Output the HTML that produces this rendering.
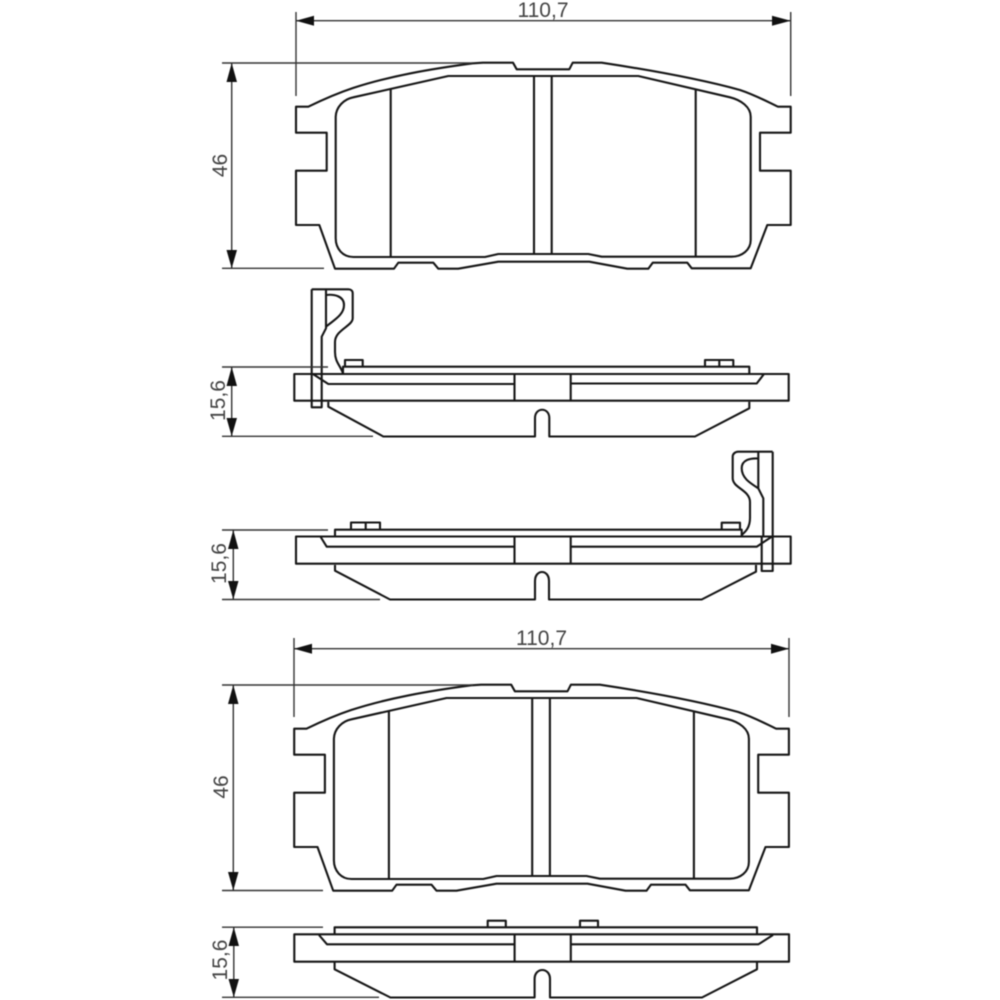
<!DOCTYPE html>
<html><head><meta charset="utf-8"><style>
html,body{margin:0;padding:0;background:#fff;width:1000px;height:1000px;overflow:hidden}
svg{display:block;filter:blur(0.4px)}
.o{fill:none;stroke:#161616;stroke-width:2.1;stroke-linejoin:round}
.d{fill:none;stroke:#333;stroke-width:1.4}
.a{fill:#111;stroke:none}
text{font-family:"Liberation Sans",sans-serif;font-size:21px;fill:#444;text-anchor:middle}
</style></head><body>
<svg width="1000" height="1000" viewBox="0 0 1000 1000" xmlns="http://www.w3.org/2000/svg">
<defs>
<g id="pad">
<path class="o" d="M296 106.7H308.3C322 100 338 93 353 88C390 76 430 69 473 63.3L483 62.7H513L516.7 69.3H569.3L572.7 62.7H601.7C650 70 700 79 740 90C755 95 766 101 778 106.7H790.7V132.7H760V170.7H790.7V225H767.3L750.7 268.3H691.7L687.3 262.7H652.7L648.3 268.7H627.3L589.3 261.7H498.3L458.3 268.7H438.3L433.3 262.7H398.3L394 268.7H335L319.3 225H296V170.7H326.7V132.7H296Z"/>
<path class="o" d="M335.7 116.7C336 107 344 99 353.3 97.3L448.3 76H638.3L730 97.3C741 100 750.7 107 750.7 116.7V240C750.7 250 742 256.7 731.7 256.7H601.7L588.3 254H498.3L485 257H353.3C343 257 335.7 249 335.7 238.3Z"/>
<path class="o" d="M390.7 89V257M695.7 89V257M534 76V254M551.7 76V254"/>
</g>
</defs>

<!-- top pad -->
<use href="#pad"/>
<path class="d" d="M296 12V96M790.7 12V96M296 20.7H790.7M222 63H473M222 268.3H324M231.7 63V268"/>
<path class="a" d="M296 20.7L314 15.7V25.7ZM790.7 20.7L772 15.7V25.7ZM231.7 63L226.5 82H237ZM231.7 268.3L226.5 250H237Z"/>
<text x="543" y="17">110,7</text>
<text transform="translate(227,165.5) rotate(-90)">46</text>

<!-- side view 1 -->
<g>
<rect class="o" x="294.3" y="374" width="494.4" height="26.7"/>
<path class="o" d="M313.3 374.3L328.3 384H514.5M514.5 374V400.7M570.7 374V400.7M570.7 383.5H756.7L764 374"/>
<path class="o" d="M343 373V366.7H749.3V374M345 366.7V360H362.7V366.7M705 366V360H733.3V366M719.3 360V366"/>
<path class="o" d="M328.3 401.7V406.7L383.3 436.5H535V418C535 407 549.3 407 549.3 418V436.5H695L749.3 408.3V401.7"/>
<path class="o" d="M311.7 289.3H348.3C351 289.3 352.7 291 352.7 293.3V318.3C352.7 326 335 330 335 342V352C335 362 340 365 343 373.3"/>
<path class="o" d="M311.7 289.3V407.3H321.7V336.7L326 328.3V289.3"/>
<path class="o" d="M326 295C334 294 344 296 344 305C344 315 334 320 326 326.7"/>
</g>
<path class="d" d="M222 367H328M222 436.3H373M231.7 367V436"/>
<path class="a" d="M231.7 367L226.5 386H237ZM231.7 436.3L226.5 418H237Z"/>
<text transform="translate(225,400.5) rotate(-90)">15,6</text>

<!-- side view 2 -->
<g>
<rect class="o" x="296" y="536.5" width="494.7" height="27.2"/>
<path class="o" d="M320.7 537L326.7 546.7H514.5M514.5 536.5V563.7M570.7 536.5V563.7M570.7 546.7H756.7L771.7 536.7"/>
<path class="o" d="M335 535.7V529.7H741.7V535.7M351 529.7V522.5H380V529.7M365.7 522.5V529.7M721.7 530V522.7H740V530"/>
<path class="o" d="M335 565V570.7L390 599.5H535V581C535 569 549 569 549 581V599.5H701.7L756 571.7V565"/>
<path class="o" d="M772.7 451.7H738.3C735 451.7 732.7 454 732.7 456.7V478.3C732.7 488 750 490 750 502V518C750 528 745 532 741.7 535"/>
<path class="o" d="M772.7 451.7V571H761.7V536.7M763.3 536.7V498.3L758.3 488.3V452"/>
<path class="o" d="M758.3 458.5C750 458 741.7 460 741.7 468.3C741.7 478 750 483 758.3 488.3"/>
</g>
<path class="d" d="M222 530H328M222 599.5H380M233.3 530V599.5"/>
<path class="a" d="M233.3 530L228 549H238.5ZM233.3 599.5L228 581H238.5Z"/>
<text transform="translate(226,563.5) rotate(-90)">15,6</text>

<!-- lower pad -->
<use href="#pad" transform="translate(-1.8,622)"/>
<path class="d" d="M294 638V717M789 638V717M294 648.7H789M222 685H473M222 890.5H323M233.3 685V890"/>
<path class="a" d="M294 648.7L312 643.7V653.7ZM789 648.7L771 643.7V653.7ZM233.3 685L228 704H238.5ZM233.3 890.5L228 872H238.5Z"/>
<text x="541.5" y="645">110,7</text>
<text transform="translate(228,787) rotate(-90)">46</text>

<!-- side view 3 -->
<g>
<rect class="o" x="294.3" y="934.3" width="494.7" height="27.4"/>
<path class="o" d="M319 935L327 944.3H514.6M514.6 934.3V961.7M570.8 934.3V961.7M570.8 944.3H758.5L773 935"/>
<path class="o" d="M334.6 934V927.3H757V934M487.7 927.3V920.7H505.8V927.3M580 927.3V920.7H598V927.3"/>
<path class="o" d="M334.6 961.7V969.3L390.4 997.5H534.6V979C534.6 967 550 967 550 979V997.5H702L757 969.3V961.7"/>
</g>
<path class="d" d="M222 927.2H323M222 997.3H379M233.8 927V997"/>
<path class="a" d="M233.8 927.2L228.5 946H239ZM233.8 997.3L228.5 979H239Z"/>
<text transform="translate(227,960) rotate(-90)">15,6</text>
</svg>
</body></html>
